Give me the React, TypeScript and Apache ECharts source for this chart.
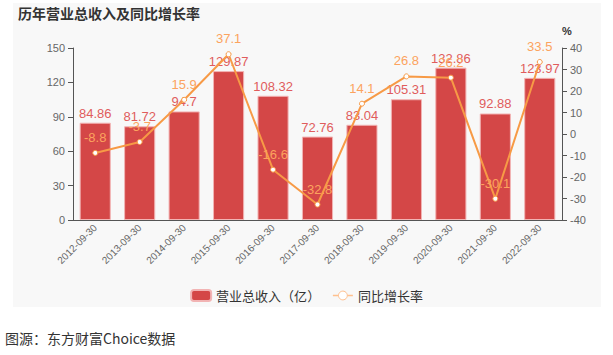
import React, { useEffect, useRef } from "react";
import * as echarts from "echarts";

const categories = [
  "2012-09-30", "2013-09-30", "2014-09-30", "2015-09-30", "2016-09-30", "2017-09-30",
  "2018-09-30", "2019-09-30", "2020-09-30", "2021-09-30", "2022-09-30",
];
const revenue = [84.86, 81.72, 94.7, 129.87, 108.32, 72.76, 83.04, 105.31, 132.86, 92.88, 123.97];
const growth = [-8.8, -3.7, 15.9, 37.1, -16.6, -32.8, 14.1, 26.8, 26.2, -30.1, 33.5];
const leftTicks = { min: 0, max: 150, interval: 30 };
const rightTicks = { min: -40, max: 40, interval: 10 };

const FONT = "'Liberation Sans', Arial, 'Noto Sans CJK SC', sans-serif";

export default function App() {
  const ref = useRef<HTMLDivElement>(null);
  useEffect(() => {
    if (!ref.current) return;
    const chart = echarts.init(ref.current, null, { renderer: "svg" });
    chart.setOption({
      animation: false,
      backgroundColor: "#ffffff",
      textStyle: { fontFamily: FONT },
      graphic: [
        {
          type: "rect",
          z: -10,
          shape: { x: 13, y: 3, width: 588, height: 304 },
          style: { fill: "#f8f8f8" },
          silent: true,
        },
        {
          type: "text",
          left: 18,
          top: 6,
          style: {
            text: "历年营业总收入及同比增长率",
            fill: "#333",
            font: "bold 14px 'Noto Sans CJK SC', sans-serif",
          },
        },
        {
          type: "text",
          left: 5,
          top: 331,
          style: {
            text: "图源：东方财富Choice数据",
            fill: "#333",
            font: "14px 'Noto Sans CJK SC', sans-serif",
          },
        },
      ],
      legend: {
        bottom: 48,
        left: "center",
        itemWidth: 20,
        itemHeight: 11,
        itemGap: 12,
        textStyle: { fontSize: 13, color: "#333", fontFamily: "'Noto Sans CJK SC', sans-serif" },
        data: [
          { name: "营业总收入（亿）", icon: "roundRect" },
          {
            name: "同比增长率",
            itemStyle: { color: "#ffffff", borderColor: "#ffc08e", borderWidth: 1 },
            lineStyle: { color: "#ffc08e", width: 1.5 },
          },
        ],
      },
      grid: { left: 73, right: 51, top: 48, bottom: 135 },
      xAxis: {
        type: "category",
        data: categories,
        axisLine: { lineStyle: { color: "#555" } },
        axisTick: { lineStyle: { color: "#555" } },
        axisLabel: { rotate: 45, fontSize: 10, color: "#666", interval: 0, margin: 6 },
      },
      yAxis: [
        {
          type: "value",
          min: leftTicks.min,
          max: leftTicks.max,
          interval: leftTicks.interval,
          splitLine: { show: false },
          axisLine: { show: true, lineStyle: { color: "#555" } },
          axisTick: { show: true, lineStyle: { color: "#555" } },
          axisLabel: { fontSize: 11, color: "#666" },
        },
        {
          type: "value",
          name: "%",
          nameGap: 12,
          nameTextStyle: { fontSize: 11, color: "#333", fontWeight: "bold", align: "left" },
          min: rightTicks.min,
          max: rightTicks.max,
          interval: rightTicks.interval,
          splitLine: { show: false },
          axisLine: { show: true, lineStyle: { color: "#555" } },
          axisTick: { show: true, lineStyle: { color: "#555" } },
          axisLabel: { fontSize: 11, color: "#666" },
        },
      ],
      series: [
        {
          name: "营业总收入（亿）",
          type: "bar",
          data: revenue,
          barWidth: "70%",
          itemStyle: { color: "#d44747", borderColor: "#f2b4b4", borderWidth: 1 },
          label: { show: true, position: "top", color: "#e05c5c", fontSize: 13, distance: 3 },
        },
        {
          name: "同比增长率",
          type: "line",
          yAxisIndex: 1,
          data: growth,
          symbol: "circle",
          symbolSize: 5,
          itemStyle: { color: "#ffffff", borderColor: "#f79a46", borderWidth: 1 },
          lineStyle: { color: "#f79a46", width: 2 },
          label: { show: true, position: "top", color: "#fca35e", fontSize: 13, distance: 6 },
        },
      ],
    });
    return () => chart.dispose();
  }, []);
  return (
    <div
      ref={ref}
      style={{ position: "absolute", left: 0, top: 0, width: 613, height: 355 }}
    />
  );
}
